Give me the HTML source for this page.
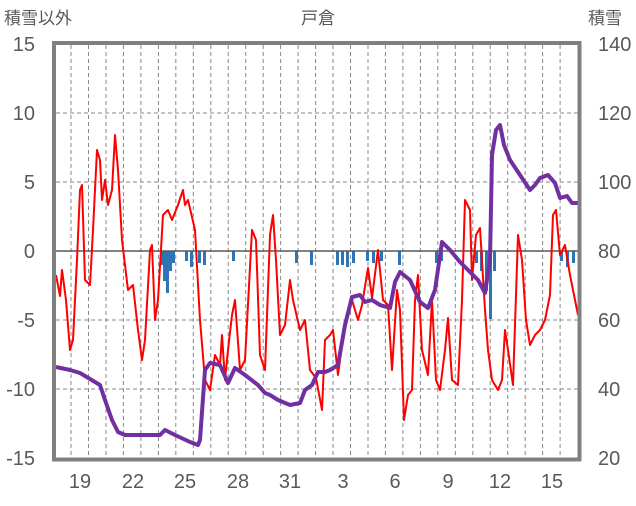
<!DOCTYPE html><html><head><meta charset="utf-8"><style>body{margin:0;background:#fff}svg text{font-family:"Liberation Sans","Noto Sans CJK JP",sans-serif;fill:#595959}</style></head><body>
<svg width="636" height="501" viewBox="0 0 636 501" xmlns="http://www.w3.org/2000/svg">
<g font-size="17"><text x="4" y="24">積雪以外</text><text x="318" y="24" text-anchor="middle">戸倉</text><text x="588" y="24">積雪</text></g>
<g stroke="#888" stroke-width="1" stroke-dasharray="4,3" fill="none">
<path d="M56 113H578M56 182H578M56 320H578M56 389H578"/>
<path d="M71 45V458M88.5 45V458M106 45V458M123.4 45V458M140.9 45V458M158.4 45V458M175.8 45V458M193.3 45V458M210.8 45V458M228.2 45V458M245.7 45V458M263.2 45V458M280.6 45V458M298.1 45V458M315.6 45V458M333 45V458M350.5 45V458M368 45V458M385.4 45V458M402.9 45V458M420.4 45V458M437.8 45V458M455.3 45V458M472.8 45V458M490.2 45V458M507.7 45V458M525.2 45V458M542.6 45V458M560.1 45V458"/>
</g>
<g fill="#2e75b6">
<rect x="160" y="251" width="3" height="14"/><rect x="163" y="251" width="3" height="30"/><rect x="166" y="251" width="3" height="42"/><rect x="169" y="251" width="3" height="20"/><rect x="172" y="251" width="3" height="12"/><rect x="185" y="251" width="3" height="10"/><rect x="190" y="251" width="3" height="16"/><rect x="198" y="251" width="3" height="12"/><rect x="203" y="251" width="3" height="14"/><rect x="232" y="251" width="3" height="10"/><rect x="295" y="251" width="3" height="12"/><rect x="310" y="251" width="3" height="14"/><rect x="336" y="251" width="3" height="14"/><rect x="341" y="251" width="3" height="14"/><rect x="346" y="251" width="3" height="16"/><rect x="352" y="251" width="3" height="12"/><rect x="366" y="251" width="3" height="10"/><rect x="372" y="251" width="3" height="12"/><rect x="380" y="251" width="3" height="10"/><rect x="398" y="251" width="3" height="14"/><rect x="435" y="251" width="3" height="12"/><rect x="440" y="251" width="3" height="10"/><rect x="475" y="251" width="3" height="12"/><rect x="480" y="251" width="3" height="20"/><rect x="485" y="251" width="3" height="40"/><rect x="489" y="251" width="3" height="68"/><rect x="493" y="251" width="3" height="20"/><rect x="560" y="251" width="3" height="10"/><rect x="566" y="251" width="3" height="16"/><rect x="572" y="251" width="3" height="12"/>
</g>
<path d="M56 251H578" stroke="#595959" stroke-width="1.5"/>
<polyline fill="none" stroke="#ff0000" stroke-width="2" stroke-linejoin="round" points="56,275 60,296 62,270 66,300 70,350 73,340 77,260 80,190 82,185 85,280 90,285 93,230 97,150 100,160 102,200 105,180 108,205 112,190 115,135 118,170 122,240 128,290 133,285 138,330 142,360 145,340 150,250 152,245 155,320 158,300 163,215 168,210 172,220 178,205 183,190 185,205 188,200 195,230 200,320 205,380 210,390 215,355 220,365 222,335 225,380 228,350 232,315 235,300 240,370 245,360 252,230 256,240 260,355 265,370 270,235 273,215 276,260 280,335 285,325 290,280 293,300 300,330 305,320 310,370 316,378 322,410 325,340 330,335 333,330 338,375 342,345 346,320 352,300 358,320 362,305 368,268 372,298 378,250 383,300 388,305 392,370 397,290 400,310 404,420 408,395 412,390 415,300 418,275 422,350 428,375 432,300 436,380 440,390 445,350 448,318 452,380 458,385 462,300 465,200 470,210 472,280 476,235 480,228 485,310 488,350 492,380 498,390 502,380 505,330 508,350 513,385 518,235 522,260 526,320 530,345 535,335 540,330 545,320 550,295 553,215 556,210 560,255 565,245 570,275 574,295 578,315"/>
<polyline fill="none" stroke="#7030a0" stroke-width="4" stroke-linejoin="round" points="56,367 70,370 80,373 95,382 100,385 105,400 112,420 118,432 125,435 160,435 165,430 175,435 190,442 198,445 200,440 205,370 210,363 220,365 228,383 235,368 245,375 258,385 265,393 270,395 278,400 290,405 300,403 305,390 312,385 318,372 325,372 330,370 338,365 345,325 352,297 360,295 365,302 372,300 380,305 390,308 395,282 400,272 410,280 420,302 428,308 435,290 442,242 450,250 460,262 470,272 478,280 485,293 490,260 492,155 496,130 500,125 504,145 510,160 520,175 530,190 535,185 540,178 548,175 555,183 560,198 567,196 572,203 578,203"/>
<rect x="54" y="43" width="525.5" height="416.5" fill="none" stroke="#808080" stroke-width="4"/>
<g font-size="20" text-anchor="end"><text x="35" y="51">15</text><text x="35" y="120">10</text><text x="35" y="189">5</text><text x="35" y="258">0</text><text x="35" y="327">-5</text><text x="35" y="396">-10</text><text x="35" y="465">-15</text></g>
<g font-size="20"><text x="598" y="51">140</text><text x="598" y="120">120</text><text x="598" y="189">100</text><text x="598" y="258">80</text><text x="598" y="327">60</text><text x="598" y="396">40</text><text x="598" y="465">20</text></g>
<g font-size="20" text-anchor="middle"><text x="80" y="488">19</text><text x="133" y="488">22</text><text x="185" y="488">25</text><text x="238" y="488">28</text><text x="290" y="488">31</text><text x="343" y="488">3</text><text x="395" y="488">6</text><text x="448" y="488">9</text><text x="500" y="488">12</text><text x="552" y="488">15</text></g>
</svg></body></html>
